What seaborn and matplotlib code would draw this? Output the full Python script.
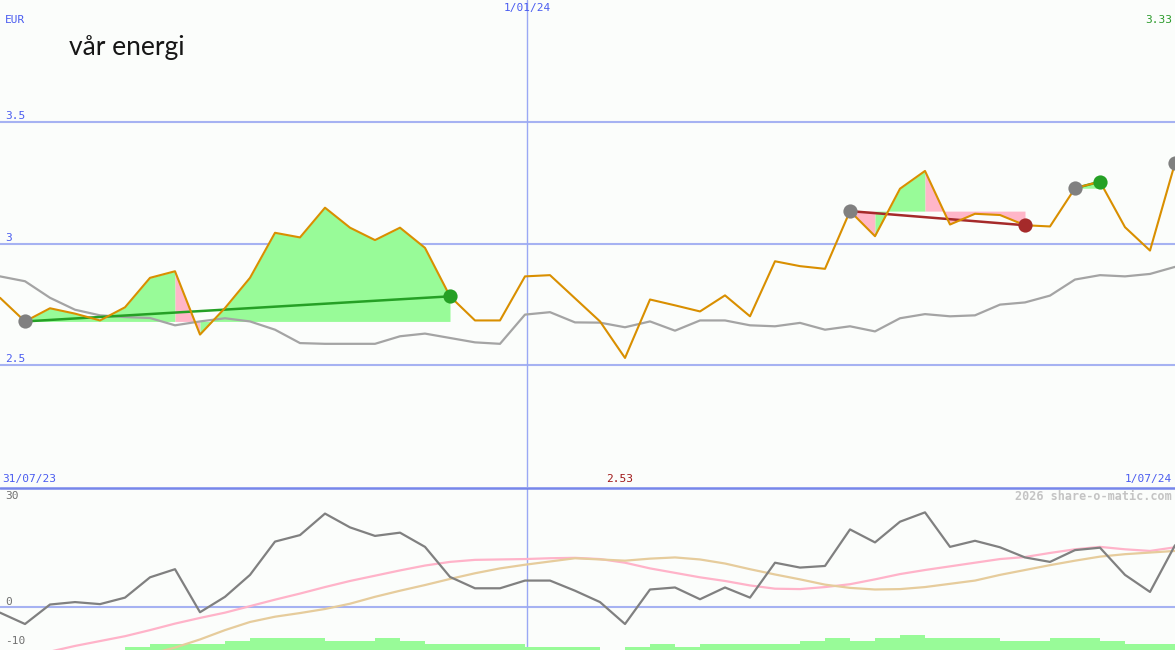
import numpy as np
import pandas as pd
import matplotlib
matplotlib.use("Agg")
import matplotlib.pyplot as plt
from matplotlib.lines import Line2D
from itertools import groupby
import seaborn as sns

# ---------------- data ----------------
dates = pd.date_range("2023-08-07", periods=48, freq="7D")
price = [2.777, 2.680, 2.734, 2.712, 2.684, 2.738, 2.859, 2.886, 2.626, 2.735,
         2.859, 3.044, 3.025, 3.147, 3.065, 3.014, 3.065, 2.982, 2.783, 2.684,
         2.684, 2.865, 2.870, 2.775, 2.680, 2.530, 2.770, 2.746, 2.721, 2.787,
         2.701, 2.927, 2.907, 2.896, 3.133, 3.030, 3.225, 3.298, 3.078, 3.122,
         3.117, 3.075, 3.070, 3.227, 3.254, 3.067, 2.971, 3.330]
price_ma = [2.865, 2.845, 2.777, 2.728, 2.705, 2.698, 2.694, 2.664, 2.680, 2.693,
            2.680, 2.646, 2.591, 2.588, 2.588, 2.588, 2.619, 2.630, 2.612, 2.594,
            2.588, 2.708, 2.718, 2.676, 2.675, 2.656, 2.680, 2.642, 2.684, 2.684,
            2.664, 2.660, 2.674, 2.646, 2.660, 2.639, 2.693, 2.710, 2.701, 2.705,
            2.749, 2.758, 2.786, 2.852, 2.870, 2.865, 2.875, 2.904]
momentum = [-1.3, -4.1, 0.7, 1.3, 0.8, 2.4, 7.4, 9.4, -1.2, 2.6,
            8.0, 16.2, 17.8, 23.1, 19.7, 17.6, 18.4, 14.9, 7.5, 4.7,
            4.7, 6.6, 6.6, 4.1, 1.3, -4.1, 4.4, 4.9, 2.0, 4.9,
            2.4, 11.0, 9.8, 10.2, 19.2, 16.0, 21.1, 23.4, 14.9, 16.4,
            14.8, 12.3, 11.2, 14.1, 14.7, 8.0, 3.8, 15.3]
mom_fast = [np.nan, np.nan, -10.9, -9.5, -8.3, -7.1, -5.6, -4.0, -2.6, -1.3,
            0.3, 1.9, 3.4, 5.0, 6.5, 7.8, 9.1, 10.3, 11.2, 11.7,
            11.8, 11.9, 12.1, 12.2, 11.9, 11.0, 9.6, 8.5, 7.4, 6.5,
            5.4, 4.6, 4.5, 5.0, 5.7, 6.9, 8.2, 9.2, 10.1, 11.0,
            11.9, 12.4, 13.4, 14.3, 14.9, 14.3, 13.9, 14.8]
mom_slow = [np.nan, np.nan, np.nan, np.nan, np.nan, np.nan, -11.5, -9.9, -7.9, -5.6,
            -3.6, -2.3, -1.4, -0.4, 0.9, 2.6, 4.1, 5.5, 7.0, 8.4,
            9.6, 10.5, 11.3, 12.1, 11.8, 11.5, 12.0, 12.3, 11.8, 10.8,
            9.4, 8.1, 6.9, 5.6, 4.8, 4.4, 4.5, 5.0, 5.8, 6.6,
            8.0, 9.2, 10.4, 11.5, 12.5, 13.1, 13.5, 13.9]
volume_level = [0, 0, 0, 0, 0, 1, 2, 2, 2, 3,
                4, 4, 4, 3, 3, 4, 3, 2, 2, 2,
                2, 1, 1, 1, 0, 1, 2, 1, 2, 2,
                2, 2, 3, 4, 3, 4, 5, 4, 4, 4,
                3, 3, 4, 4, 3, 2, 2, 0]
# trend segments: (start week, end week, kind)
trend_start = [1, 34, 43]
trend_end = [18, 41, 44]
trend_kind = ["up", "down", "up"]
# colour of each shaded step inside the trends (g = gain, p = loss)
trend_steps = ["ggggggpgggggggggg", "pggpppp", "g"]
open_trend = 47

price_labels = ["3.5", "3", "2.5"]
price_levels = [3.5, 3.0, 2.5]
mom_labels = ["30", "0", "-10"]

# ---------------- style ----------------
sns.set_theme(style="white")
plt.rcParams["font.family"] = ["DejaVu Sans Mono", "DejaVu Sans"]

W, H = 1175, 650
BG = "#fbfdfb"
BLUE_TXT = "#4a5cf0"
GRID = "#a6b2f2"
ORANGE = "#d98f00"
GREEN_FILL = "#98fb98"
PINK_FILL = "#ffb6c8"
GREEN_DOT = "#25a025"
RED_DOT = "#a52a2a"

x = np.arange(len(price))
df = pd.DataFrame({"x": x, "date": dates, "price": price, "ma": price_ma,
                   "mom": momentum, "fast": mom_fast, "slow": mom_slow,
                   "vol": volume_level})

fig = plt.figure(figsize=(W / 100, H / 100), dpi=100, facecolor=BG)
top_frac = 487 / H
ax = fig.add_axes([0, 1 - top_frac, 1, top_frac])
ax2 = fig.add_axes([0, 0, 1, (H - 488) / H])
for a in (ax, ax2):
    a.set_facecolor(BG)
    for s in a.spines.values():
        s.set_visible(False)
    a.set_xticks([])
    a.set_yticks([])
    a.set_xlim(0, len(price) - 1)

ax.set_ylim(2.0, 4.0)
ylo2, yhi2 = -10.5, 29.4
ax2.set_ylim(ylo2, yhi2)

# gridlines
for lv in price_levels:
    ax.axhline(lv, color=GRID, lw=1.5, zorder=1)
ax2.axhline(0, color=GRID, lw=1.5, zorder=1)
jan = (pd.Timestamp("2024-01-01") - dates[0]).days / 7
ax.axvline(jan + 0.08, color="#9aa8f4", lw=1.0, zorder=1)
ax2.axvline(jan + 0.08, color="#9aa8f4", lw=1.0, zorder=1)
fig.add_artist(Line2D([0, 1], [1 - 487.5 / H] * 2, color="#7686ea", lw=1.8))

# trend shading (runs of equal colour drawn as one polygon)
for s, e, steps in zip(trend_start, trend_end, trend_steps):
    base = price[s]
    k = s
    for c, run in groupby(steps):
        n = len(list(run))
        xs = list(range(k, k + n + 1))
        ys = [price[j] for j in xs]
        ax.fill_between(xs, ys, [base] * len(xs),
                        color=GREEN_FILL if c == "g" else PINK_FILL,
                        lw=0, zorder=2)
        k += n

sns.lineplot(data=df, x="x", y="ma", ax=ax, color="#a4a4a4", lw=1.6, zorder=3)
for s, e, kind in zip(trend_start, trend_end, trend_kind):
    col = GREEN_DOT if kind == "up" else RED_DOT
    ax.plot([s, e], [price[s], price[e]], color=col, lw=1.8, zorder=4)
sns.lineplot(data=df, x="x", y="price", ax=ax, color=ORANGE, lw=1.5, zorder=5)
for s, e, kind in zip(trend_start, trend_end, trend_kind):
    col = GREEN_DOT if kind == "up" else RED_DOT
    ax.scatter([s], [price[s]], s=105, color="#808080", zorder=6, lw=0)
    ax.scatter([e], [price[e]], s=105, color=col, zorder=6, lw=0)
ax.scatter([open_trend], [price[open_trend]], s=105, color="#808080", zorder=6,
           lw=0, clip_on=False)
ax.set_xlabel("")
ax.set_ylabel("")

# bottom panel
ax2.bar(df["x"], df["vol"] * 0.73, bottom=ylo2, width=1, align="edge",
        color=GREEN_FILL, lw=0, zorder=1)
sns.lineplot(data=df, x="x", y="fast", ax=ax2, color="#ffb3c9", lw=1.6, zorder=3)
sns.lineplot(data=df, x="x", y="slow", ax=ax2, color="#e6cc9c", lw=1.6, zorder=3)
sns.lineplot(data=df, x="x", y="mom", ax=ax2, color="#808080", lw=1.6, zorder=4)
ax2.set_xlabel("")
ax2.set_ylabel("")
ax2.set_xlim(0, len(price) - 1)
ax2.set_ylim(ylo2, yhi2)


def ftxt(px, py, s, color, ha="left", size=8, **kw):
    fig.text(px / W, 1 - py / H, s, color=color, ha=ha, va="center",
             fontsize=size, **kw)


ftxt(5, 20, "EUR", BLUE_TXT)
for lab, py in zip(price_labels, [116, 238, 359]):
    ftxt(5, py, lab, BLUE_TXT)
ftxt(527, 8, "1/01/24", BLUE_TXT, ha="center")
ftxt(1172, 20, f"{price[-1]:.2f}", "#2a9a2a", ha="right")
ftxt(2, 479, "31/07/23", BLUE_TXT)
ftxt(620, 479, f"{min(price):.2f}", "#a01818", ha="center")
ftxt(1172, 479, "1/07/24", BLUE_TXT, ha="right")
ftxt(1172, 496, "2026 share-o-matic.com", "#c4c4c4", ha="right", size=8.5,
     fontweight="bold")
for lab, py in zip(mom_labels, [496, 602, 641]):
    ftxt(5, py, lab, "#707070")

# logo text
fig.text(69 / W, 1 - 47 / H, "vår energi", color="#161616", ha="left",
         va="center", fontsize=19, family="Lato")

fig.savefig("out.png", dpi=100, facecolor=BG)
